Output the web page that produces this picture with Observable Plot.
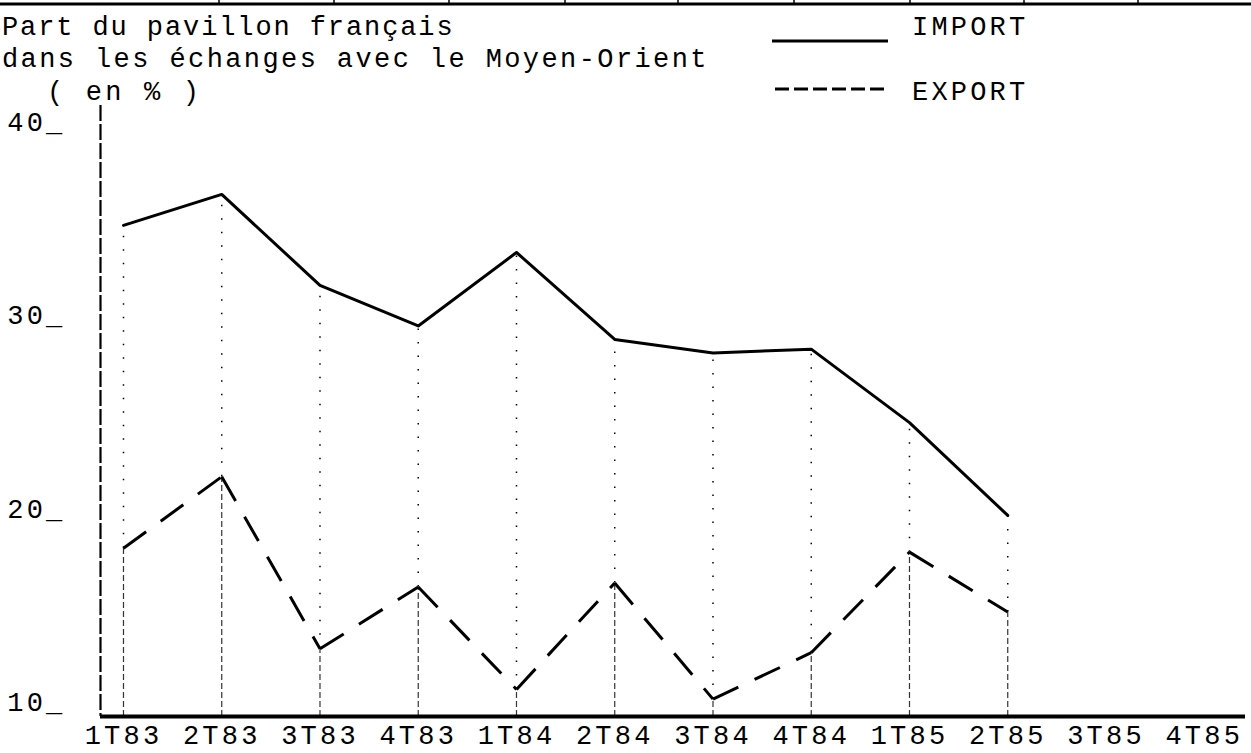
<!DOCTYPE html>
<html>
<head>
<meta charset="utf-8">
<script src="https://cdn.jsdelivr.net/npm/d3@7"></script>
<script src="https://cdn.jsdelivr.net/npm/@observablehq/plot@0.6"></script>
<style>
  html, body { margin: 0; padding: 0; background: white; }
  #wrap { position: relative; width: 1251px; height: 753px; overflow: hidden; background: white; }
  #head { display: block; }
  svg text { font-family: "Liberation Mono", "DejaVu Sans Mono", monospace; letter-spacing: 3.2px; fill: black; }
  #chart svg g[aria-label="x-axis tick label"] text { font-size: 26px; letter-spacing: 3.4px; }
</style>
</head>
<body>
<div id="wrap">
  <svg id="head" width="1251" height="100" style="overflow:visible">
    <line x1="0" x2="1251" y1="4" y2="4" stroke="black" stroke-width="3"></line>
    <g stroke="black" stroke-width="1.5">
      <line x1="219" x2="219" y1="0" y2="4"></line>
      <line x1="334" x2="334" y1="0" y2="4"></line>
      <line x1="449" x2="449" y1="0" y2="4"></line>
      <line x1="565" x2="565" y1="0" y2="4"></line>
      <line x1="678" x2="678" y1="0" y2="4"></line>
      <line x1="794" x2="794" y1="0" y2="4"></line>
      <line x1="910" x2="910" y1="0" y2="4"></line>
      <line x1="1024" x2="1024" y1="0" y2="4"></line>
      <line x1="1138" x2="1138" y1="0" y2="4"></line>
    </g>
    <text x="2" y="35" font-size="27" style="letter-spacing:1.9px">Part du pavillon français</text>
    <text x="2" y="67" font-size="27" style="letter-spacing:2.4px">dans les échanges avec le Moyen-Orient</text>
    <text x="47" y="100" font-size="27">( en % )</text>
    <line x1="772" x2="888" y1="41" y2="41" stroke="black" stroke-width="3"></line>
    <text x="912" y="35" font-size="27">IMPORT</text>
    <line x1="775" x2="885" y1="89" y2="89" stroke="black" stroke-width="3" stroke-dasharray="14,5"></line>
    <text x="912" y="100" font-size="27">EXPORT</text>
  </svg>
  <div id="chart"></div>
</div>
<script>
// Data
const quarters = ["1T83","2T83","3T83","4T83","1T84","2T84","3T84","4T84","1T85","2T85","3T85","4T85"];
const importPct = [35.4, 37.0, 32.3, 30.2, 34.0, 29.5, 28.8, 29.0, 25.2, 20.4];
const exportPct = [18.7, 22.4, 13.5, 16.7, 11.4, 16.9, 10.9, 13.3, 18.5, 15.4];
const yTicks = [10, 20, 30, 40];

const xDomain = [-0.234, 11.42];
const yDomain = [10, 41.6];
const idx = d3.range(importPct.length);

const plot = Plot.plot({
  width: 1251,
  height: 653,
  marginLeft: 100,
  marginRight: 6,
  marginTop: 5,
  marginBottom: 37,
  x: {type: "linear", domain: xDomain},
  y: {type: "linear", domain: yDomain},
  style: {fontFamily: "Liberation Mono", fontSize: "27px", background: "white", color: "black", overflow: "visible"},
  marks: [
    Plot.axisX(d3.range(quarters.length), {tickFormat: (i) => quarters[i], tickSize: 0, tickPadding: 8, label: null, ariaLabel: "x-axis tick label"}),
    Plot.axisY(yTicks, {tickFormat: (d) => d + "_", tickSize: 0, tickPadding: 35, dy: -14, label: null}),
    // drop lines from points to the axis
    Plot.ruleX(idx, {x: (i) => i, y1: yDomain[0], y2: (i) => exportPct[i], stroke: "black", strokeWidth: 1.2, strokeDasharray: "6,3", strokeOpacity: 0.8}),
    Plot.ruleX(idx, {x: (i) => i, y1: (i) => exportPct[i], y2: (i) => importPct[i], stroke: "black", strokeWidth: 1.5, strokeDasharray: "1.5,12"}),
    // dashed vertical axis and heavy baseline
    Plot.ruleX([xDomain[0]], {stroke: "black", strokeWidth: 2.2, strokeDasharray: "16,3"}),
    Plot.ruleY([yDomain[0]], {stroke: "black", strokeWidth: 4}),
    // IMPORT (solid)
    Plot.line(idx, {x: (i) => i, y: (i) => importPct[i], stroke: "black", strokeWidth: 3}),
    // EXPORT (dashed, segment by segment)
    Plot.link(idx.slice(0, -1), {x1: (i) => i, y1: (i) => exportPct[i], x2: (i) => i + 1, y2: (i) => exportPct[i + 1], stroke: "black", strokeWidth: 3, strokeDasharray: "28,18"})
  ]
});
document.getElementById("chart").appendChild(plot);
</script>
</body>
</html>
